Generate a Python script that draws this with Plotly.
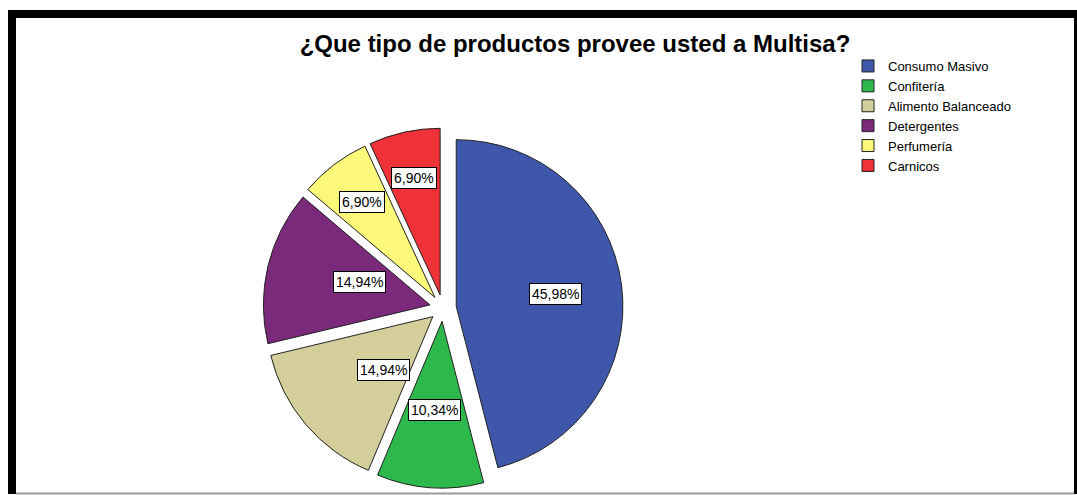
import math
import plotly.graph_objects as go

categories = ["Consumo Masivo", "Confitería", "Alimento Balanceado",
              "Detergentes", "Perfumería", "Carnicos"]
percentages = [45.98, 10.34, 14.94, 14.94, 6.90, 6.90]
colors = ["#3f57aa", "#2db84b", "#d4cf9a", "#7b2a7b", "#fcf87a", "#ee3238"]
title_text = "¿Que tipo de productos provee usted a Multisa?"

W, H = 1077, 495
cx, cy, R_ext = 443, 308, 180
pull = 0.08
r = R_ext / (1 + pull)
dom_x = [(cx - R_ext) / W, (cx + R_ext) / W]
dom_y = [1 - (cy + R_ext) / H, 1 - (cy - R_ext) / H]

fig = go.Figure(go.Pie(
    labels=categories, values=percentages, sort=False,
    direction="clockwise", rotation=0, pull=[pull] * len(percentages),
    marker=dict(colors=colors, line=dict(color="#222222", width=1)),
    textinfo="none", hoverinfo="label+percent",
    domain=dict(x=dom_x, y=dom_y),
))

total = sum(percentages)
annotations = []
cum = 0.0
for v in percentages:
    mid = math.radians((cum + v / 2) / total * 360)
    cum += v
    frac = 0.6 if v > 10 else 0.72
    d = frac * r + pull * r
    px = cx + d * math.sin(mid)
    py = cy - d * math.cos(mid)
    annotations.append(dict(
        x=px / W, y=1 - py / H, xref="paper", yref="paper",
        text=f"{v:.2f}".replace(".", ",") + "%", showarrow=False,
        font=dict(family="Liberation Sans, Arial", size=14, color="black"),
        bgcolor="white", bordercolor="black", borderwidth=1, borderpad=2,
    ))

shapes = [
    dict(type="rect", xref="paper", yref="paper", x0=8 / W, x1=16 / W,
         y0=1 - 494 / H, y1=1 - 10 / H, fillcolor="black", line=dict(width=0)),
    dict(type="rect", xref="paper", yref="paper", x0=8 / W, x1=1,
         y0=1 - 18 / H, y1=1 - 10 / H, fillcolor="black", line=dict(width=0)),
    dict(type="rect", xref="paper", yref="paper", x0=1074 / W, x1=1,
         y0=1 - 494 / H, y1=1 - 10 / H, fillcolor="black", line=dict(width=0)),
    dict(type="line", xref="paper", yref="paper", x0=16 / W, x1=1074 / W,
         y0=1 - 493.5 / H, y1=1 - 493.5 / H, line=dict(color="#9a9a9a", width=2)),
]

fig.update_layout(
    width=W, height=H, margin=dict(l=0, r=0, t=0, b=0),
    paper_bgcolor="white", plot_bgcolor="white",
    title=dict(text="<b>" + title_text + "</b>", x=575 / W, xanchor="center",
               y=1 - 44 / H, yanchor="middle",
               font=dict(family="Liberation Sans, Arial", size=24, color="black")),
    legend=dict(x=848 / W, y=1 - 51 / H, xanchor="left", yanchor="top",
                font=dict(family="Liberation Sans, Arial", size=13, color="black"),
                bgcolor="rgba(0,0,0,0)", tracegroupgap=0, itemwidth=30),
    annotations=annotations, shapes=shapes,
)

fig.write_html("out.html")
